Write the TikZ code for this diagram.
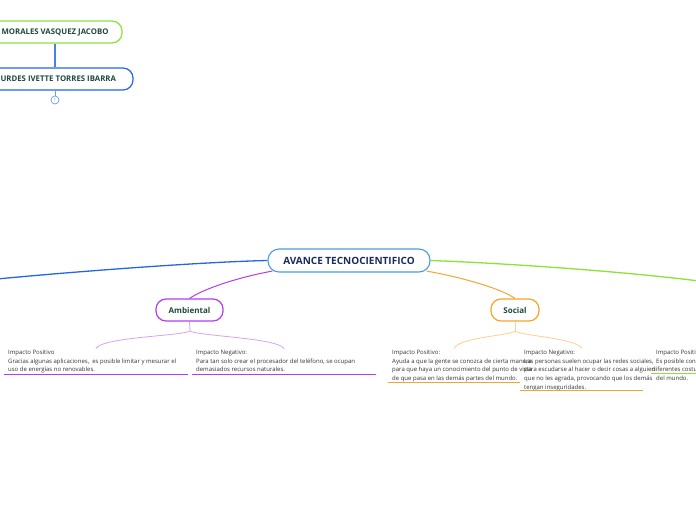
\documentclass[tikz,border=0pt]{standalone}
\usepackage{fontspec}
\setmainfont{Open Sans}
\usetikzlibrary{calc}
\pgfdeclarelayer{bg}
\pgfsetlayers{bg,main}
\definecolor{cgreen}{HTML}{8AE23A}
\definecolor{cblue}{HTML}{2366E6}
\definecolor{clink}{HTML}{4A80EA}
\definecolor{cmainb}{HTML}{4A9ED6}
\definecolor{cpurple}{HTML}{B43CF0}
\definecolor{clpurple}{HTML}{D6A2F5}
\definecolor{corange}{HTML}{F5A52B}
\definecolor{clorange}{HTML}{FFD08E}
\definecolor{tgreen}{HTML}{1D4A3C}
\definecolor{tnavy}{HTML}{1C2B5A}
\definecolor{tleaf}{HTML}{333333}
\definecolor{ccirc}{HTML}{6C9CEB}
\begin{document}
\begin{tikzpicture}[x=1pt,y=-1pt,
  topicbox/.style={draw, rounded corners=10pt, fill=white, line width=1.2pt, text=tgreen, inner sep=0pt, minimum height=22pt},
  smallfont/.style={font=\bfseries\fontsize{7.8}{9}\selectfont},
  subfont/.style={font=\bfseries\fontsize{8}{9}\selectfont},
  leaf/.style={anchor=north west, align=left, inner xsep=4pt, inner ysep=1.5pt, font=\fontsize{6}{8.6}\selectfont, text=tleaf},
  branch/.style={line width=1.3pt},
  twig/.style={line width=0.8pt},
  uline/.style={line width=1.4pt}]
\useasboundingbox (0,0) rectangle (696,520);
\clip (0,0) rectangle (696,520);

% top nodes
\node[topicbox, smallfont, draw=cgreen, minimum width=134pt] (jac) at (55,32) {MORALES VASQUEZ JACOBO};
\node[topicbox, smallfont, draw=cblue, minimum width=160pt] (lou) at (53,79) {LOURDES IVETTE TORRES IBARRA};
\node[draw=ccirc, circle, fill=white, line width=0.7pt, inner sep=0pt, minimum size=8pt, text=ccirc, font=\fontsize{4.5}{5}\selectfont] (c1) at (55,100) {1};

% main
\node[draw=cmainb, rounded corners=11pt, fill=white, line width=1.1pt, minimum width=162pt, minimum height=23pt, inner sep=0pt, text=tnavy, font=\bfseries\fontsize{10}{11}\selectfont] (main) at (349,260.5) {AVANCE TECNOCIENTIFICO};

% sub topics
\node[topicbox, subfont, draw=cpurple, minimum width=67pt] (amb) at (189.5,310) {Ambiental};
\node[topicbox, subfont, draw=corange, minimum width=48pt] (soc) at (515,310) {Social};

% leaves
\node[leaf] (la) at (4,348.5) {Impacto Positivo\\Gracias algunas aplicaciones,\ \ es posible limitar y mesurar el\\uso de energías no renovables.};
\node[leaf] (lb) at (192,348.5) {Impacto Negativo:\\Para tan solo crear el procesador del teléfono, se ocupan\\demasiados recursos naturales.};
\node[leaf] (lc) at (388,348.5) {Impacto Positivo:\\Ayuda a que la gente se conozca de cierta manera\\para que haya un conocimiento del punto de vista\\de que pasa en las demás partes del mundo.};
\node[leaf] (ld) at (520,348.5) {Impacto Negativo:\\Las personas suelen ocupar las redes sociales,\\para escudarse al hacer o decir cosas a alguien\\que no les agrada, provocando que los demás\\tengan inseguridades.};
\node[leaf] (le) at (652,348.5) {Impacto Positivo:\\Es posible conocer\\\hspace*{-4pt}diferentes costumbres\\del mundo.};

\coordinate (offL) at (-3,279);
\coordinate (offR) at (699,281);
\coordinate (ajoin) at (190,331);
\coordinate (sjoin) at (515,331);

\begin{pgfonlayer}{bg}
\draw[clink, line width=1.3pt] (jac.south) -- (lou.north -| jac.south);
\draw[ccirc, line width=0.8pt] (lou.south -| c1.north) -- (c1.north);
\draw[branch, cblue] (main.west) .. controls (200,262) and (70,272) .. (offL);
\draw[branch, cgreen] (main.east) .. controls (500,263) and (620,271) .. (offR);
\draw[twig, cpurple, line width=1pt] ($(main.south west)+(5,-1.5)$) .. controls (240,277) and (205,288) .. (amb.north);
\draw[twig, corange, line width=1pt] ($(main.south east)+(-4,-1.5)$) .. controls (460,277) and (500,288) .. (soc.north);
% ambiental twigs
\draw[twig, clpurple] (amb.south) -- (ajoin);
\draw[twig, clpurple] (ajoin) .. controls (182,336) and (102,337) .. (la.north -| 96,0);
\draw[twig, clpurple] (ajoin) .. controls (198,336) and (278,338) .. (lb.north -| 284,0);
% social twigs
\draw[twig, clorange] (soc.south) -- (sjoin);
\draw[twig, clorange] (sjoin) .. controls (508,336) and (460,337) .. (lc.north -| 454,0);
\draw[twig, clorange] (sjoin) .. controls (522,336) and (576,338) .. (ld.north -| 582,0);
\end{pgfonlayer}

% underlines (leaf bottom edges)
\draw[uline, cpurple] (la.west |- 0,374.5) -- ++(184,0);
\draw[uline, cpurple] (lb.west |- 0,374.5) -- ++(184,0);
\draw[uline, corange] (lc.west |- 0,382.5) -- ++(132,0);
\draw[uline, corange] (ld.west |- 0,390.5) -- ++(123,0);
\draw[uline, cgreen] (le.west |- 0,373.5) ++(-1,0) -- ++(50,0);
\end{tikzpicture}
\end{document}
